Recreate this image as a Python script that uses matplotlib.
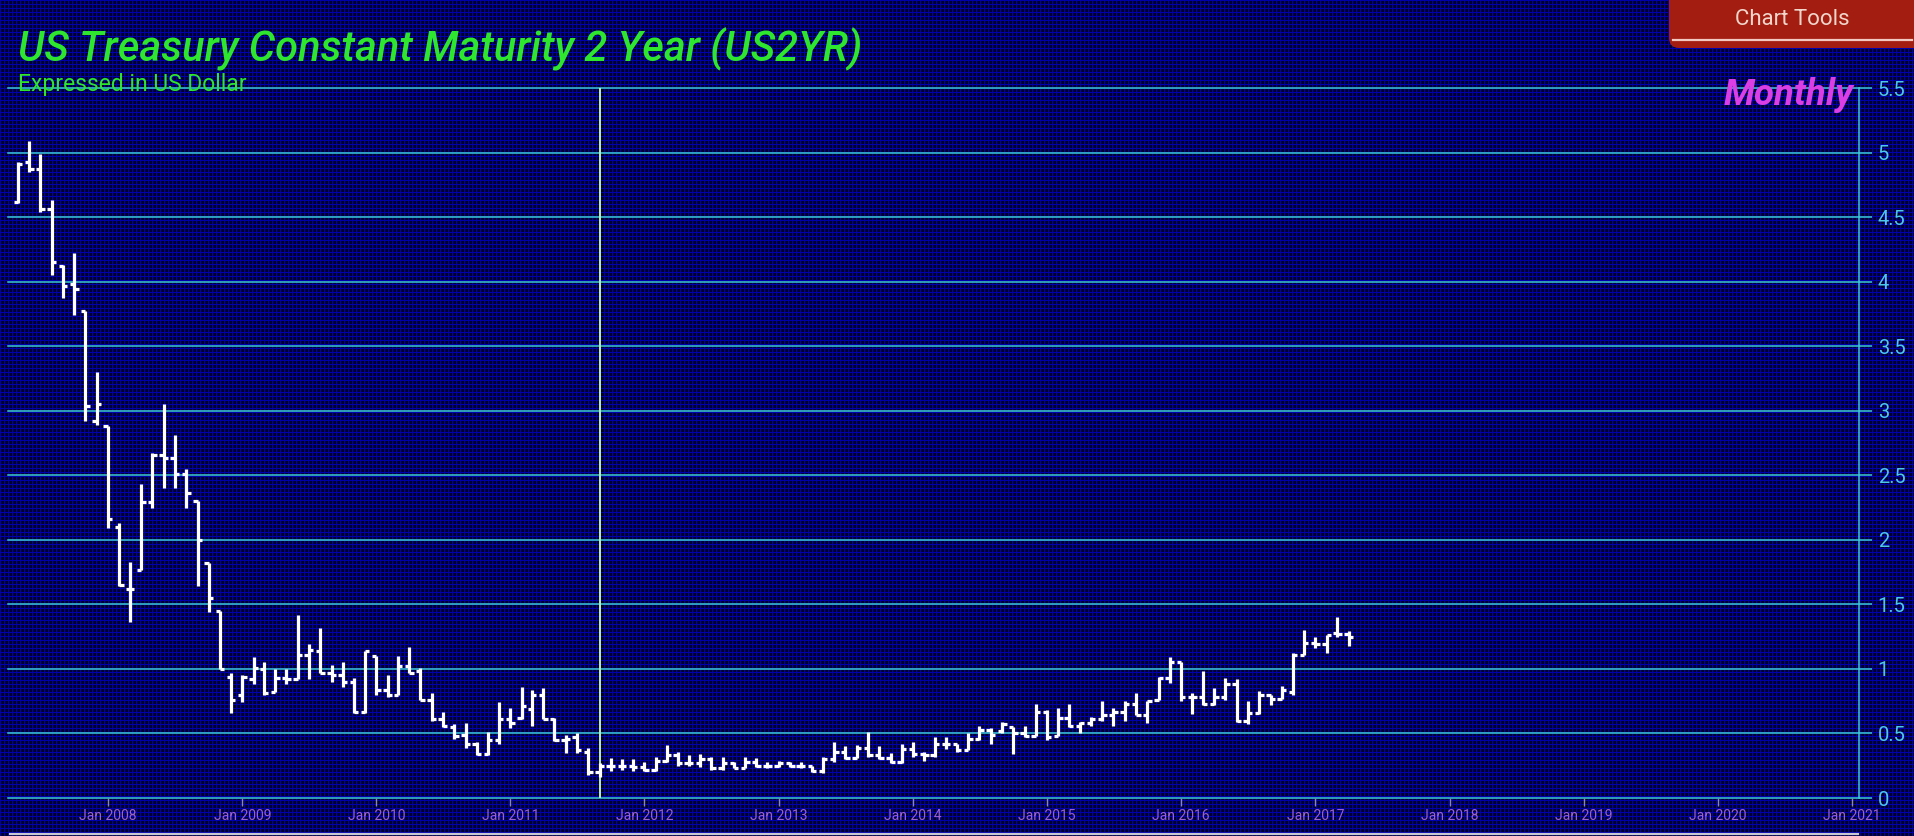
import numpy as np
import pandas as pd
import matplotlib
matplotlib.use("Agg")
import matplotlib.pyplot as plt
import matplotlib.dates as mdates
from matplotlib.patches import FancyBboxPatch
from matplotlib.lines import Line2D
from matplotlib.transforms import IdentityTransform

plt.rcParams['font.family'] = ['Roboto', 'DejaVu Sans']

# ---------------------------------------------------------------------------
# Monthly OHLC, US 2-year treasury, May 2007 .. Apr 2017
# ---------------------------------------------------------------------------
first_month = "2007-05-01"
opens = [4.62, 4.93, 4.87, 4.56, 4.12, 3.98, 3.77, 2.92,
         2.88, 2.10, 1.62, 1.77, 2.29, 2.66, 2.63, 2.51, 2.30, 1.82, 1.45, 0.94,
         0.80, 0.92, 1.00, 0.82, 0.93, 0.92, 1.11, 1.14, 0.97, 0.95, 0.90, 0.67,
         1.10, 0.84, 0.80, 1.02, 0.98, 0.76, 0.61, 0.55, 0.49, 0.42, 0.34, 0.45,
         0.61, 0.62, 0.69, 0.80, 0.61, 0.45, 0.47, 0.36, 0.20, 0.25, 0.25, 0.25,
         0.24, 0.22, 0.29, 0.33, 0.27, 0.27, 0.30, 0.23, 0.27, 0.23, 0.28, 0.25,
         0.25, 0.27, 0.25, 0.25, 0.21, 0.30, 0.36, 0.31, 0.39, 0.33, 0.31, 0.28,
         0.38, 0.34, 0.33, 0.42, 0.42, 0.37, 0.46, 0.53, 0.52, 0.55, 0.50, 0.48,
         0.67, 0.48, 0.62, 0.56, 0.58, 0.61, 0.64, 0.67, 0.73, 0.64, 0.76, 0.93,
         1.05, 0.78, 0.78, 0.73, 0.78, 0.88, 0.60, 0.66, 0.80, 0.77, 0.82, 1.11,
         1.20, 1.19, 1.28, 1.27]
highs = [4.93, 5.09, 4.99, 4.63, 4.13, 4.22, 3.77, 3.30,
         2.88, 2.13, 1.83, 2.43, 2.67, 3.05, 2.81, 2.55, 2.30, 1.82, 1.45, 0.97,
         0.95, 1.09, 1.05, 1.00, 1.00, 1.42, 1.19, 1.32, 1.03, 1.05, 0.93, 1.14,
         1.10, 0.95, 1.10, 1.17, 1.01, 0.81, 0.67, 0.57, 0.58, 0.43, 0.51, 0.74,
         0.70, 0.86, 0.84, 0.85, 0.62, 0.49, 0.50, 0.39, 0.27, 0.31, 0.30, 0.30,
         0.28, 0.32, 0.41, 0.36, 0.33, 0.34, 0.32, 0.32, 0.28, 0.32, 0.31, 0.28,
         0.29, 0.28, 0.28, 0.25, 0.32, 0.43, 0.40, 0.41, 0.51, 0.40, 0.35, 0.42,
         0.43, 0.36, 0.47, 0.47, 0.42, 0.50, 0.56, 0.54, 0.59, 0.55, 0.56, 0.73,
         0.68, 0.70, 0.73, 0.59, 0.63, 0.75, 0.70, 0.75, 0.81, 0.75, 0.94, 1.09,
         1.05, 0.81, 0.98, 0.85, 0.93, 0.92, 0.75, 0.83, 0.80, 0.87, 1.12, 1.30,
         1.25, 1.26, 1.40, 1.29]
lows = [4.61, 4.85, 4.54, 4.05, 3.87, 3.74, 2.92, 2.89,
        2.09, 1.64, 1.36, 1.77, 2.25, 2.40, 2.40, 2.25, 1.64, 1.44, 1.00, 0.66,
        0.74, 0.88, 0.80, 0.82, 0.88, 0.92, 0.92, 0.97, 0.90, 0.86, 0.66, 0.66,
        0.80, 0.78, 0.80, 0.97, 0.76, 0.60, 0.55, 0.46, 0.39, 0.33, 0.33, 0.42,
        0.54, 0.61, 0.56, 0.61, 0.44, 0.35, 0.35, 0.18, 0.16, 0.21, 0.22, 0.21,
        0.21, 0.21, 0.28, 0.25, 0.25, 0.24, 0.22, 0.22, 0.23, 0.23, 0.24, 0.23,
        0.24, 0.24, 0.23, 0.20, 0.19, 0.28, 0.30, 0.31, 0.32, 0.30, 0.27, 0.27,
        0.32, 0.29, 0.32, 0.38, 0.36, 0.37, 0.45, 0.42, 0.50, 0.34, 0.47, 0.48,
        0.45, 0.48, 0.55, 0.50, 0.56, 0.60, 0.56, 0.60, 0.64, 0.58, 0.76, 0.89,
        0.75, 0.65, 0.72, 0.72, 0.76, 0.59, 0.57, 0.65, 0.72, 0.77, 0.80, 1.11,
        1.16, 1.12, 1.25, 1.18]
closes = [4.91, 4.87, 4.56, 4.15, 3.97, 3.94, 3.04, 3.05,
          2.16, 1.65, 1.62, 2.29, 2.66, 2.63, 2.51, 2.36, 2.00, 1.55, 1.00, 0.76,
          0.94, 1.01, 0.81, 0.93, 0.92, 1.11, 1.15, 0.97, 0.95, 0.90, 0.67, 1.14,
          0.84, 0.80, 1.02, 0.97, 0.76, 0.61, 0.56, 0.48, 0.42, 0.34, 0.45, 0.61,
          0.58, 0.71, 0.80, 0.61, 0.45, 0.46, 0.37, 0.20, 0.25, 0.25, 0.25, 0.24,
          0.22, 0.29, 0.33, 0.27, 0.27, 0.30, 0.23, 0.27, 0.23, 0.28, 0.25, 0.25,
          0.27, 0.25, 0.25, 0.21, 0.30, 0.36, 0.31, 0.39, 0.33, 0.31, 0.28, 0.38,
          0.34, 0.33, 0.42, 0.42, 0.37, 0.46, 0.53, 0.49, 0.57, 0.50, 0.48, 0.67,
          0.47, 0.62, 0.56, 0.58, 0.61, 0.64, 0.67, 0.73, 0.64, 0.75, 0.93, 1.05,
          0.78, 0.78, 0.73, 0.78, 0.88, 0.60, 0.66, 0.80, 0.77, 0.84, 1.11, 1.20,
          1.19, 1.26, 1.27, 1.25]

y_ticks = [0, 0.5, 1, 1.5, 2, 2.5, 3, 3.5, 4, 4.5, 5, 5.5]
x_tick_years = list(range(2008, 2022))
cursor_month = "2011-09-01"

title = "US Treasury Constant Maturity 2 Year (US2YR)"
subtitle = "Expressed in US Dollar"
period_label = "Monthly"
button_label = "Chart Tools"

dates = pd.date_range(first_month, periods=len(closes), freq="MS")

# colours
c_grid = '#3ccbd4'
c_ylab = '#4cc8ea'
c_xlab = '#9a62cc'
c_bar = 'white'
c_title = '#2ee62e'
c_magenta = '#dc3ee6'

W, H = 1914, 836
fig = plt.figure(figsize=(W / 100, H / 100), dpi=100)
fig.patch.set_facecolor('black')

# fine blue mesh background
bg = np.zeros((H, W, 3), dtype=np.uint8)
bg[:, :, 2] = 45
bg[:, ::4, 2] = 175
bg[::4, :, 2] = 175
fig.figimage(bg, xo=0, yo=0, zorder=0)

# axes: left 8px, right 1859px, y 0 at 798px, 5.5 at 88px (from top)
ax = fig.add_axes([8 / W, (H - 798) / H, (1859 - 8) / W, (798 - 88) / H])
ax.set_facecolor('none')
ax.set_zorder(2)

ax.set_xlim(pd.Timestamp("2007-04-04"), pd.Timestamp("2021-01-20"))
ax.set_ylim(0, 5.5)

for yv in y_ticks:
    ax.axhline(yv, color=c_grid, lw=1.1, clip_on=False, zorder=1)

ax.axvline(pd.Timestamp(cursor_month), color='#b8f2b4', lw=1.4, zorder=1)

# OHLC bars
tick_len = pd.Timedelta(days=12)
lw_bar = 2.3
ax.vlines(dates, lows, highs, color=c_bar, lw=lw_bar, zorder=3)
ax.hlines(opens, dates - tick_len, dates, color=c_bar, lw=lw_bar, zorder=3)
ax.hlines(closes, dates, dates + tick_len, color=c_bar, lw=lw_bar, zorder=3)

# axes styling
for s in ['top', 'left', 'bottom']:
    ax.spines[s].set_visible(False)
ax.spines['right'].set_color(c_grid)
ax.spines['right'].set_linewidth(1.1)

ax.yaxis.tick_right()
ax.set_yticks(y_ticks)
ax.set_yticklabels([f"{v:g}" for v in y_ticks])
ax.tick_params(axis='y', colors=c_grid, labelcolor=c_ylab, length=9.5,
               width=1.1, labelsize=14.5, pad=4)

ax.set_xticks([pd.Timestamp(f"{y}-01-01") for y in x_tick_years])
ax.xaxis.set_major_formatter(mdates.DateFormatter('Jan %Y'))
ax.tick_params(axis='x', colors='#8a8aa8', labelcolor=c_xlab, length=6,
               width=1, labelsize=10, pad=2)

# ---------------------------------------------------------------------------
# Texts and decorations (pixel coordinates)
# ---------------------------------------------------------------------------
ident = IdentityTransform()


def fit_width(t, target):
    r = fig.canvas.get_renderer()
    w = t.get_window_extent(r).width
    t.set_fontsize(t.get_fontsize() * target / w)


t1 = fig.text(18, H - 61, title, transform=ident, color=c_title,
              fontsize=29, style='italic', fontweight='medium', ha='left',
              va='baseline', zorder=5)
t2 = fig.text(18, H - 91, subtitle, transform=ident, color=c_title,
              fontsize=15, ha='left', va='baseline', zorder=5)
t3 = fig.text(1853, H - 105, period_label, transform=ident, color=c_magenta,
              fontsize=26, style='italic', fontweight='semibold', ha='right',
              va='baseline', zorder=5)
fit_width(t1, 843)
fit_width(t2, 229)
fit_width(t3, 130)

btn = FancyBboxPatch((1669, H - 48), 290, 90, transform=ident,
                     boxstyle='round,pad=0,rounding_size=10',
                     facecolor='#a31d10', edgecolor='none', zorder=5)
fig.patches.append(btn)
fig.lines.append(Line2D([1673, 1912], [H - 40, H - 40], transform=ident,
                        color='#f2c8c0', lw=1.6, zorder=6))
fig.text(1792, H - 25, button_label, transform=ident, color='#f2d6cc',
         fontsize=16, ha='center', va='baseline', zorder=6)

# scrollbar strip at the bottom
fig.lines.append(Line2D([10, 1858], [2.5, 2.5], transform=ident,
                        color='#c8c8d2', lw=1.6, zorder=6))

fig.savefig('out.png', dpi=100, facecolor=fig.get_facecolor())
